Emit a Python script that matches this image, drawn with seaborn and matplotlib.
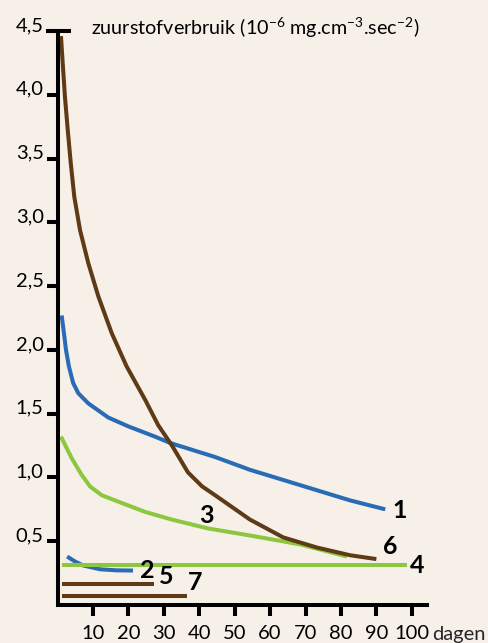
import numpy as np
import pandas as pd
import matplotlib
matplotlib.use("Agg")
import matplotlib.pyplot as plt
import seaborn as sns

# curves (dagen, zuurstofverbruik)
c1_x = [1.15, 1.8, 2.37, 3.2, 4.4, 5.85, 8.7, 14.3, 20.0, 27.5, 31.8, 44.5,
        54.3, 82.6, 92.5]
c1_y = [2.27, 2.13, 2.0, 1.87, 1.74, 1.66, 1.58, 1.47, 1.40, 1.32, 1.27, 1.16,
        1.06, 0.82, 0.75]

c2_x = [2.7, 5.0, 7.2, 12.0, 16.5, 21.3]
c2_y = [0.38, 0.34, 0.31, 0.28, 0.272, 0.27]

c3_x = [0.96, 4.0, 6.8, 9.15, 12.5, 18.1, 24.7, 32.2, 42.5, 54.3, 68.5, 81.7]
c3_y = [1.32, 1.15, 1.02, 0.93, 0.86, 0.80, 0.73, 0.67, 0.60, 0.545, 0.475, 0.38]

c4_x = [1.3, 98.7]
c4_y = [0.31, 0.31]

c5_x = [1.3, 27.2]
c5_y = [0.165, 0.165]

c6_x = [0.96, 1.44, 2.09, 2.85, 3.70, 4.72, 6.33, 8.67, 11.5, 15.3, 19.5, 24.7,
        28.4, 32.3, 36.8, 40.8, 44.5, 54.3, 63.7, 73.3, 82.6, 90.0]
c6_y = [4.46, 4.25, 3.98, 3.73, 3.47, 3.20, 2.94, 2.68, 2.42, 2.13, 1.87, 1.61,
        1.41, 1.25, 1.04, 0.93, 0.86, 0.67, 0.53, 0.45, 0.39, 0.36]

c7_x = [1.3, 36.6]
c7_y = [0.07, 0.07]

series_names = ["1", "2", "3", "4", "5", "6", "7"]
label_x = [96.7, 25.3, 41.9, 101.5, 30.6, 94.0, 38.8]
label_y = [0.74, 0.27, 0.70, 0.31, 0.22, 0.455, 0.18]

x_ticks = [10, 20, 30, 40, 50, 60, 70, 80, 90, 100]
y_ticks = [0.5, 1.0, 1.5, 2.0, 2.5, 3.0, 3.5, 4.0, 4.5]
y_ticklabels = ["0,5", "1,0", "1,5", "2,0", "2,5", "3,0", "3,5", "4,0", "4,5"]

blue = "#2a6bb6"
green = "#8dc63f"
brown = "#5e3a16"
bg = "#f6f0e9"
colors = {"1": blue, "2": blue, "3": green, "4": green,
          "5": brown, "6": brown, "7": brown}

xs = [c1_x, c2_x, c3_x, c4_x, c5_x, c6_x, c7_x]
ys = [c1_y, c2_y, c3_y, c4_y, c5_y, c6_y, c7_y]
df = pd.concat([pd.DataFrame({"dagen": x, "waarde": y, "curve": n})
                for x, y, n in zip(xs, ys, series_names)], ignore_index=True)

sns.set_style("ticks")
plt.rcParams["font.family"] = ["Lato", "DejaVu Sans"]
plt.rcParams["mathtext.default"] = "regular"

fig = plt.figure(figsize=(4.88, 6.43), dpi=100, facecolor=bg)
ax = fig.add_axes([0.118, 0.0591, 0.757, 0.8927])
ax.set_facecolor(bg)

sns.lineplot(data=df, x="dagen", y="waarde", hue="curve", palette=colors,
             estimator=None, sort=False, linewidth=2.9, legend=False, ax=ax)
for line in ax.get_lines():
    line.set_solid_capstyle("butt")
    line.set_solid_joinstyle("round")

for n, lx, ly in zip(series_names, label_x, label_y):
    ax.text(lx, ly, n, fontsize=18, fontweight="bold", ha="center",
            va="center", color="black")

ax.set_xlim(0, 104.3)
ax.set_ylim(0, 4.5)
ax.set_xticks(x_ticks)
ax.set_xticklabels([str(t) for t in x_ticks])
ax.set_yticks(y_ticks)
ax.set_yticklabels(y_ticklabels)
ax.set_xlabel("")
ax.set_ylabel("")

sns.despine(ax=ax)
for s in ["left", "bottom"]:
    ax.spines[s].set_linewidth(2.9)
    ax.spines[s].set_color("black")
ax.tick_params(axis="both", length=8, width=2.9, color="black",
               labelsize=14.5, labelcolor="black")
ax.tick_params(axis="x", pad=6.5)
ax.tick_params(axis="y", pad=2)
for lab in ax.get_yticklabels():
    lab.set_va("baseline")

# top bar at 4,5 sticks out on both sides
ax.plot([-0.032, 0.036], [4.5, 4.5], transform=ax.get_yaxis_transform(),
        color="black", linewidth=2.9, clip_on=False, solid_capstyle="butt")

ax.text(9.4, 4.47, "zuurstofverbruik (10$^{-6}$ mg.cm$^{-3}$.sec$^{-2}$)",
        fontsize=14.2, ha="left", va="baseline", color="black")
ax.annotate("dagen", xy=(1, 0), xycoords="axes fraction", xytext=(4, -21),
            textcoords="offset points", fontsize=14.5, ha="left", va="center")

fig.savefig("out.png", dpi=100, facecolor=bg)
